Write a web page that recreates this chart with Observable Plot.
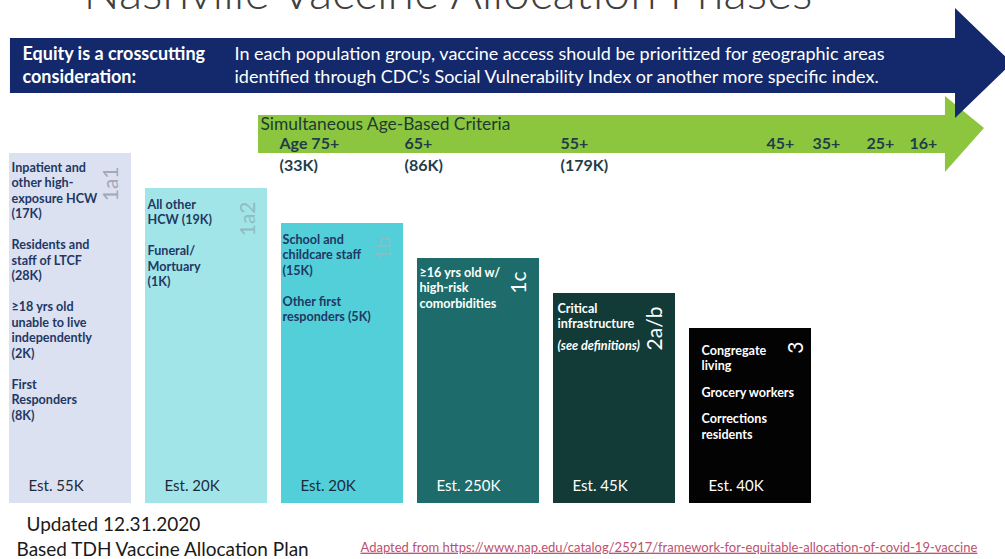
<!DOCTYPE html>
<html><head><meta charset="utf-8">
<script src="https://cdn.jsdelivr.net/npm/d3@7"></script>
<script src="https://cdn.jsdelivr.net/npm/@observablehq/plot@0.6"></script>
<style>
html,body{margin:0;padding:0;background:#fff;}
#chart{width:1005px;height:559px;overflow:hidden;}
</style></head><body><div id="chart"></div>
<script>
// ---------- data ----------
const phases = ["1a1", "1a2", "1b", "1c", "2a/b", "3"];
const levels = [10, 9, 8, 7, 6, 5];            // stair-step height of each phase box
const estimates = ["Est. 55K", "Est. 20K", "Est. 20K", "Est. 250K", "Est. 45K", "Est. 40K"];
const groups = [
  ["Inpatient and\nother high-\nexposure HCW\n(17K)", "Residents and\nstaff of LTCF\n(28K)", "≥18 yrs old\nunable to live\nindependently\n(2K)", "First\nResponders\n(8K)"],
  ["All other\nHCW (19K)", "Funeral/\nMortuary\n(1K)"],
  ["School and\nchildcare staff\n(15K)", "Other first\nresponders (5K)"],
  ["≥16 yrs old w/\nhigh-risk\ncomorbidities"],
  ["Critical\ninfrastructure", "(see definitions)"],
  ["Congregate\nliving", "Grocery workers", "Corrections\nresidents"]
];
const ageGroups = ["Age 75+", "65+", "55+", "45+", "35+", "25+", "16+"];
const ageCounts = ["(33K)", "(86K)", "(179K)", "", "", "", ""];
const title = "Nashville Vaccine Allocation Phases";
const equityHead = "Equity is a crosscutting\nconsideration:";
const equityText = "In each population group, vaccine access should be prioritized for geographic areas\nidentified through CDC’s Social Vulnerability Index or another more specific index.";
const ageHead = "Simultaneous Age-Based Criteria";
const notes = ["Updated 12.31.2020", "Based TDH Vaccine Allocation Plan"];
const source = "Adapted from https://www.nap.edu/catalog/25917/framework-for-equitable-allocation-of-covid-19-vaccine";

// ---------- styles / layout ----------
const boxFill = ["#dbe1f1", "#a2e5e9", "#52cfd8", "#1d6b6a", "#123b37", "#030303"];
const textFill = ["#1f3864", "#1f3864", "#1f3864", "#ffffff", "#ffffff", "#ffffff"];
const estFill = ["#1c2b3a", "#1c2b3a", "#1c2b3a", "#ffffff", "#ffffff", "#ffffff"];
const labelFill = ["#a3a8b8", "#8fbcc0", "#86bfc6", "#ffffff", "#ffffff", "#ffffff"];
const firstOffset = [14, 16, 16, 14, 15, 22];
const textIndent = [2, 2, 1, 2, 4, 12];
const labelInset = [20, 19, 20, 20, 20, 15];
const paraGap = [15.5, 15.5, 15.5, 0, 6.5, 11];
const lineH = 15.5;
const boxW = 0.897;
const agePx = [279, 404, 560, 766, 812, 866, 909];
const FONT = "Lato, 'Open Sans', sans-serif";

const boxes = phases.map((p, i) => ({i, phase: p, level: levels[i], est: estimates[i]}));

// one row per text line inside the boxes
const lineRows = [];
groups.forEach((gs, i) => {
  let pos = firstOffset[i];
  gs.forEach((g, gi) => {
    if (gi > 0) pos += paraGap[i];
    g.split("\n").forEach(t => {
      lineRows.push({i, top: levels[i], text: t, dy: pos, italic: t.startsWith("(see")});
      pos += lineH;
    });
  });
});

// arrow outlines (chart units)
const blueArrow = [
  {x: 0.007, y1: 11.714, y2: 13.286}, {x: 6.956, y1: 11.714, y2: 13.286},
  {x: 6.956, y1: 11.0, y2: 14.143}, {x: 7.375, y1: 12.571, y2: 12.571}
];
const greenArrow = [
  {x: 1.831, y1: 10.0, y2: 11.086}, {x: 6.882, y1: 10.0, y2: 11.086},
  {x: 6.882, y1: 9.457, y2: 11.629}, {x: 7.169, y1: 10.714, y2: 10.714}
];

const marks = [
  Plot.areaY(greenArrow, {x: "x", y1: "y1", y2: "y2", fill: "#8cc63e", curve: "linear"}),
  Plot.areaY(blueArrow, {x: "x", y1: "y1", y2: "y2", fill: "#14296b", curve: "linear"}),
  Plot.rectY(boxes, {x1: "i", x2: d => d.i + boxW, y1: 0, y2: "level", fill: (d) => boxFill[d.i]}),
  ...boxes.map(b => Plot.text([b], {x: d => d.i + boxW, y: "level", text: "phase", rotate: -90, dx: -labelInset[b.i], dy: 13,
    textAnchor: "end", lineAnchor: "middle", fontSize: 21, fontFamily: FONT, fill: labelFill[b.i]})),
  Plot.text(boxes, {x: "i", y: 0, text: "est", dx: 19, dy: -17, textAnchor: "start", lineAnchor: "middle",
    fontSize: 15, fontFamily: FONT, fill: d => estFill[d.i]}),
  ...lineRows.map(r => Plot.text([r], {x: "i", y: "top", text: "text", dx: textIndent[r.i], dy: r.dy, textAnchor: "start",
    lineAnchor: "middle", fontSize: 12.6, fontWeight: "bold", fontStyle: r.italic ? "italic" : "normal",
    fontFamily: FONT, fill: textFill[r.i]})),
  // header
  Plot.text([title], {frameAnchor: "top", dx: -55, dy: 8, lineAnchor: "bottom", fontSize: 48, fontWeight: 300, fontFamily: FONT, fill: "#404040"}),
  Plot.text([equityHead], {frameAnchor: "top-left", dx: 22, dy: 64, lineAnchor: "middle", textAnchor: "start", lineHeight: 1.25, fontSize: 18, fontWeight: "bold", fontFamily: FONT, fill: "#ffffff"}),
  Plot.text([equityText], {frameAnchor: "top-left", dx: 234, dy: 64, lineAnchor: "middle", textAnchor: "start", lineHeight: 1.25, fontSize: 18, fontFamily: FONT, fill: "#ffffff"}),
  Plot.text([ageHead], {frameAnchor: "top-left", dx: 260, dy: 124, lineAnchor: "middle", textAnchor: "start", fontSize: 17.4, fontFamily: FONT, fill: "#1d3b35"}),
  ...ageGroups.map((a, k) => Plot.text([a], {frameAnchor: "top-left", dx: agePx[k], dy: 143, lineAnchor: "middle", textAnchor: "start", fontSize: 16, fontWeight: "bold", fontFamily: FONT, fill: "#1f3d4a"})),
  ...ageCounts.map((a, k) => Plot.text([a], {frameAnchor: "top-left", dx: agePx[k], dy: 165, lineAnchor: "middle", textAnchor: "start", fontSize: 16, fontWeight: "bold", fontFamily: FONT, fill: "#1f3d4a"})),
  // footer
  Plot.text([notes[0]], {frameAnchor: "bottom-left", dx: 26, dy: -35, lineAnchor: "middle", textAnchor: "start", fontSize: 19, fontFamily: FONT, fill: "#1a1a1a"}),
  Plot.text([notes[1]], {frameAnchor: "bottom-left", dx: 16, dy: -10, lineAnchor: "middle", textAnchor: "start", fontSize: 19, fontFamily: FONT, fill: "#1a1a1a"}),
  Plot.text([source], {frameAnchor: "bottom-left", dx: 360, dy: -12, lineAnchor: "middle", textAnchor: "start", fontSize: 13, fontFamily: FONT, fill: "#c0506e"})
];

const chart = Plot.plot({
  width: 1005, height: 559,
  marginTop: 0, marginRight: 0, marginBottom: 0, marginLeft: 0,
  x: {type: "linear", domain: [0, 6], range: [9, 825], axis: null},
  y: {type: "linear", domain: [0, 10], range: [503, 153], axis: null},
  style: {background: "#ffffff", overflow: "hidden"},
  marks
});
d3.select(chart).selectAll("text").filter(function () { return this.textContent.startsWith("Adapted"); })
  .style("text-decoration", "underline");
document.getElementById("chart").appendChild(chart);
</script></body></html>
